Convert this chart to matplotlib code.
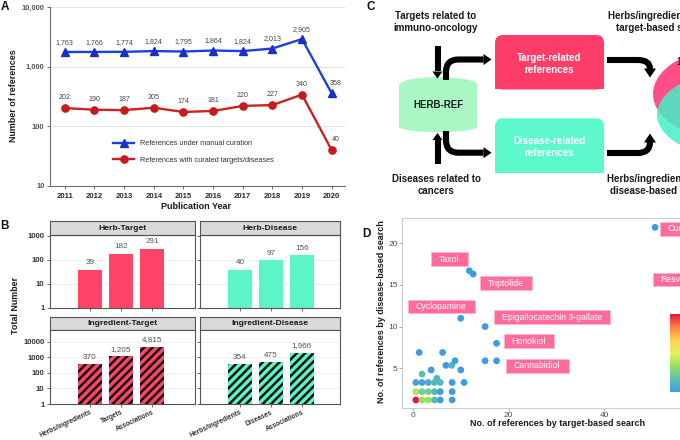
import numpy as np
import matplotlib
matplotlib.use('Agg')
import matplotlib.pyplot as plt
from matplotlib.patches import Rectangle, Ellipse, FancyBboxPatch, Polygon, PathPatch
from matplotlib.path import Path
from matplotlib.colors import LinearSegmentedColormap
from matplotlib.ticker import FixedLocator, FuncFormatter, NullLocator
from matplotlib.transforms import IdentityTransform

plt.rcParams['font.family'] = ['Liberation Sans', 'DejaVu Sans']
plt.rcParams['hatch.linewidth'] = 1.8

# ---------------- data ----------------
years = [2011, 2012, 2013, 2014, 2015, 2016, 2017, 2018, 2019, 2020]
manual_refs = [1763, 1766, 1774, 1824, 1795, 1864, 1824, 2013, 2905, 358]
curated_refs = [202, 190, 187, 205, 174, 181, 220, 227, 340, 40]
legend_labels = ['References under manual curation',
                 'References with curated targets/diseases']

facet_titles = ['Herb-Target', 'Herb-Disease', 'Ingredient-Target', 'Ingredient-Disease']
target_cats = ['Herbs/ingredients', 'Targets', 'Associations']
disease_cats = ['Herbs/ingredients', 'Diseases', 'Associations']
herb_target = [39, 182, 291]
herb_disease = [40, 97, 156]
ingr_target = [370, 1205, 4815]
ingr_disease = [354, 475, 1966]

target_hits = [0.6, 1.9, 3.2, 4.5, 5.7, 8.2,
               0.6, 1.9, 3.2, 4.5, 5.7, 8.2,
               0.6, 1.9, 3.2, 4.5, 5.7, 8.2, 10.7,
               5.0, 1.9, 3.8, 10.0, 6.9, 8.1, 8.8, 1.3, 6.2,
               15.1, 17.5, 17.5, 15.1, 10.0, 11.8, 12.6, 50.7, 58.0]
disease_hits = [1.2, 1.2, 1.2, 1.2, 1.2, 1.2,
                2.2, 2.2, 2.2, 2.2, 2.2, 2.2,
                3.3, 3.3, 3.3, 3.3, 3.3, 3.3, 3.3,
                3.8, 4.3, 4.8, 4.8, 5.35, 5.35, 5.9, 6.9, 6.9,
                5.9, 5.9, 8.0, 10.0, 11.0, 16.7, 16.3, 21.9, 15.7]
point_counts = [40, 14, 14, 6, 1, 1,
                16, 10, 10, 6, 1, 1,
                2, 2, 4, 6, 6, 1, 1,
                6, 7, 1, 1, 1, 5, 1, 1, 1,
                1, 1, 1, 1, 1, 1, 1, 1, 1]
compound_names = ['Curcumin', 'Resveratrol', 'Taxol', 'Triptolide', 'Cyclopamine',
                  'Epigallocatechin 3-gallate', 'Honokiol', 'Cannabidiol']

venn_top = '1'

# ---------------- layout helpers ----------------
W, H = 680, 440
fig = plt.figure(figsize=(6.8, 4.4), dpi=100)


def axpx(l, t, r, b, **kw):
    return fig.add_axes([l / W, 1 - b / H, (r - l) / W, (b - t) / H], **kw)


def ftext(x, y, s, **kw):
    return fig.text(x / W, 1 - y / H, s, **kw)


# overlay for panel C + panel letters
axC = axpx(0, 0, W, H)
axC.set_xlim(0, W)
axC.set_ylim(H, 0)
axC.axis('off')

# ---------------- Panel A ----------------
axA = axpx(50, 7, 345, 186)
axA.set_yscale('log')
blue = '#1f3fdd'
red = '#cc2222'
l1, = axA.plot(years, manual_refs, color=blue, lw=1.7, marker='^', ms=6.2,
               mfc='#1a30c4', mec='#1a30c4', label=legend_labels[0], zorder=3)
l2, = axA.plot(years, curated_refs, color=red, lw=1.7, marker='o', ms=5.2,
               mfc='#c41c1c', mec='#c41c1c', label=legend_labels[1], zorder=3)
axA.set_ylim(10, 10000)
axA.set_xlim(2010.5, 2020.45)
axA.yaxis.set_major_locator(FixedLocator([10, 100, 1000, 10000]))
axA.yaxis.set_minor_locator(NullLocator())
axA.yaxis.set_major_formatter(FuncFormatter(lambda v, p: f'{int(round(v)):,}'))
axA.set_xticks(years)
axA.yaxis.grid(True, color='#e3e3e3', lw=0.7)
axA.set_axisbelow(True)
for s in ['top', 'right']:
    axA.spines[s].set_visible(False)
for s in ['left', 'bottom']:
    axA.spines[s].set_color('#6e6e6e')
    axA.spines[s].set_linewidth(0.8)
axA.tick_params(axis='y', length=2.5, width=0.7, color='#6e6e6e', labelsize=5.4,
                labelcolor='#555555', pad=1.5)
axA.tick_params(axis='x', length=2.5, width=0.7, color='#6e6e6e', labelsize=5.6,
                labelcolor='#2a2a2a', pad=2.5)
for lab in axA.get_yticklabels() + axA.get_xticklabels():
    lab.set_fontweight('bold')
for i, (yr, v) in enumerate(zip(years, manual_refs)):
    dx = 3 if i == len(years) - 1 else 0
    axA.annotate(f'{v:,}', (yr, v), xytext=(dx, 7), textcoords='offset points',
                 ha='center', va='center', fontsize=5.1, color='#444444')
for i, (yr, v) in enumerate(zip(years, curated_refs)):
    dx = 3 if i == len(years) - 1 else 0
    axA.annotate(f'{v:,}', (yr, v), xytext=(dx, 7.5), textcoords='offset points',
                 ha='center', va='center', fontsize=5.1, color='#444444')
axA.legend(handles=[l1, l2], loc='center left', bbox_to_anchor=(113 / W, 1 - 152 / H),
           bbox_transform=fig.transFigure, frameon=False, fontsize=5.3,
           handlelength=2.9, handletextpad=0.7, labelspacing=1.25, borderpad=0,
           borderaxespad=0, labelcolor='#333333')
ftext(196, 206, 'Publication Year', ha='center', va='center', fontsize=6.5,
      fontweight='bold', color='#1a1a1a')
ftext(14, 96, 'Number of references', ha='center', va='center', rotation=90,
      fontsize=6.4, fontweight='bold', color='#1a1a1a')

# ---------------- Panel B ----------------
pink = '#ff4468'
aqua = '#5cf5c8'


def facet(l, r, ts, t, b, title, cats, vals, color, hatched, ytop, yticks,
          show_y, show_x, xlim):
    s = axpx(l, ts, r, t)
    s.set_facecolor('#d9d9d9')
    s.set_xticks([])
    s.set_yticks([])
    for sp in s.spines.values():
        sp.set_color('#555555')
        sp.set_linewidth(0.8)
    s.text(0.5, 0.5, title, ha='center', va='center', fontsize=6.1,
           fontweight='bold', color='#1a1a1a', transform=s.transAxes)
    ax = axpx(l, t, r, b)
    ax.set_yscale('log')
    x = np.arange(len(cats))
    ax.bar(x, vals, width=0.8, color=color, lw=0, zorder=2)
    if hatched:
        ax.bar(x, vals, width=0.8, facecolor='none', edgecolor='#111111',
               hatch='////', lw=0, zorder=3)
    ax.set_ylim(1, ytop)
    ax.set_xlim(*xlim)
    ax.yaxis.set_major_locator(FixedLocator(yticks))
    ax.yaxis.set_minor_locator(NullLocator())
    ax.yaxis.set_major_formatter(FuncFormatter(lambda v, p: f'{int(round(v))}'))
    ax.yaxis.grid(True, color='#ebebeb', lw=0.6)
    ax.set_axisbelow(True)
    for sp in ax.spines.values():
        sp.set_color('#555555')
        sp.set_linewidth(0.8)
    ax.tick_params(axis='y', length=2.5, width=0.6, color='#555555', labelsize=5.6,
                   labelcolor='#333333', pad=1.5, labelleft=show_y)
    ax.set_xticks(x)
    ax.tick_params(axis='x', length=2, width=0.6, color='#555555', labelsize=4.8,
                   labelcolor='#333333', pad=1.5, labelbottom=show_x)
    if show_x:
        ax.set_xticklabels(cats, rotation=25, ha='right', rotation_mode='anchor',
                           fontweight='bold')
    if show_y:
        for lab in ax.get_yticklabels():
            lab.set_fontweight('bold')
    for xi, v in zip(x, vals):
        ax.annotate(f'{v:,}', (xi, v), xytext=(0, 2.5), textcoords='offset points',
                    ha='center', va='bottom', fontsize=5.9, color='#555555')
    return ax


xl_left = (1 - 71 / 31, 1 + 74 / 31)
xl_right = (1 - 71 / 31, 1 + 69 / 31)
facet(50, 195, 221, 235, 308, facet_titles[0], target_cats, herb_target, pink, False,
      1100, [1, 10, 100, 1000], True, False, xl_left)
facet(200, 340, 221, 235, 308, facet_titles[1], disease_cats, herb_disease, aqua, False,
      1100, [1, 10, 100, 1000], False, False, xl_right)
facet(50, 195, 317, 330, 404, facet_titles[2], target_cats, ingr_target, pink, True,
      59000, [1, 10, 100, 1000, 10000], True, True, xl_left)
facet(200, 340, 317, 330, 404, facet_titles[3], disease_cats, ingr_disease, aqua, True,
      59000, [1, 10, 100, 1000, 10000], False, True, xl_right)
ftext(15, 305, 'Total Number', ha='center', va='center', rotation=90,
      fontsize=6.4, fontweight='bold', color='#1a1a1a')

# ---------------- Panel C (diagram) ----------------
tc = '#1a1a1a'
axC.text(436, 22, 'Targets related to\nimmuno-oncology', ha='center', va='center',
         fontsize=7, fontweight='bold', color=tc, linespacing=1.15)
axC.text(436, 185, 'Diseases related to\ncancers', ha='center', va='center',
         fontsize=7, fontweight='bold', color=tc, linespacing=1.15)
axC.text(662, 22, 'Herbs/ingredients from\ntarget-based search', ha='center',
         va='center', fontsize=7, fontweight='bold', color=tc, linespacing=1.15)
axC.text(661, 185, 'Herbs/ingredients from\ndisease-based search', ha='center',
         va='center', fontsize=7, fontweight='bold', color=tc, linespacing=1.15)

cyl = '#a8f7c4'
axC.add_patch(Rectangle((399.3, 85), 78, 41.7, color=cyl, lw=0))
axC.add_patch(Ellipse((438.3, 85), 78, 16, color=cyl, lw=0))
axC.add_patch(Ellipse((438.3, 126.7), 78, 11, color=cyl, lw=0))
axC.text(438.3, 105, 'HERB-REF', ha='center', va='center', fontsize=7,
         fontweight='bold', color='#1a1a1a')

tbox = '#ff3d68'
dbox = '#5df8cc'
for y0, colr, txt in [(35, tbox, 'Target-related\nreferences'),
                      (118.3, dbox, 'Disease-related\nreferences')]:
    axC.add_patch(FancyBboxPatch((495, y0), 109, 54.5,
                                 boxstyle='round,pad=0,rounding_size=8', fc=colr, lw=0))
    axC.add_patch(Rectangle((495, y0 + 27), 109, 27.5, fc=colr, lw=0))
    axC.text(549.5, y0 + 28.8, txt, ha='center', va='center', fontsize=7,
             fontweight='bold', color='white', linespacing=1.2)

# venn
axC.add_patch(Ellipse((730, 94), 154, 92, fc='#ff4f86', lw=0))
axC.add_patch(Ellipse((730, 114.5), 146, 83, fc='#42f0c7', lw=0, alpha=0.85))
axC.text(676, 62, venn_top, ha='left', va='center', fontsize=7, fontweight='bold',
         color='#1a1a1a')

LW = 4.4


def shaft(pts, codes):
    axC.add_patch(PathPatch(Path(pts, codes), fc='none', ec='black', lw=LW,
                            capstyle='butt', joinstyle='round'))


def head(tip, d, w=11, L=8):
    x, y = tip
    if d == 'right':
        pts = [(x - L, y - w / 2), (x - L, y + w / 2), (x, y)]
    elif d == 'down':
        pts = [(x - w / 2, y - L), (x + w / 2, y - L), (x, y)]
    else:
        pts = [(x - w / 2, y + L), (x + w / 2, y + L), (x, y)]
    axC.add_patch(Polygon(pts, closed=True, fc='black', ec='none'))


M, Lt, C3 = Path.MOVETO, Path.LINETO, Path.CURVE3
shaft([(437.5, 46.5), (437.5, 71.5)], [M, Lt])
head((437.5, 78.5), 'down', w=10, L=7)
shaft([(437.5, 164), (437.5, 140)], [M, Lt])
head((437.5, 133), 'up', w=10, L=7)
shaft([(446, 80), (446, 72), (446, 59.5), (458.5, 59.5), (483.5, 59.5)], [M, Lt, C3, C3, Lt])
head((491.5, 59.5), 'right')
shaft([(446, 131), (446, 140), (446, 152.7), (458.5, 152.7), (483.5, 152.7)], [M, Lt, C3, C3, Lt])
head((491.5, 152.7), 'right')
shaft([(607, 60), (638, 60), (650, 60), (650, 69)], [M, Lt, C3, C3])
head((650, 77.5), 'down', w=12, L=9)
shaft([(607, 153), (638, 153), (650, 153), (650, 142)], [M, Lt, C3, C3])
head((650, 133.5), 'up', w=12, L=9)

# panel letters
for (x, y, s) in [(4.5, 6.5, 'A'), (4.5, 226, 'B'), (371, 7, 'C'), (366, 234, 'D')]:
    axC.text(x, y, s, ha='center', va='center', fontsize=8.5, fontweight='bold',
             color='#111111')

# ---------------- Panel D ----------------
px_per_x = 4.775
x0_px = 413
px_per_y = 8.34
y0_px = 410
xmin = (402 - x0_px) / px_per_x
xmax = 60
ymin = (y0_px - 408) / px_per_y
ymax = (y0_px - 218) / px_per_y
axD = axpx(402, 218, x0_px + xmax * px_per_x, 408)
axD.set_xlim(xmin, xmax)
axD.set_ylim(ymin, ymax)
cmap = LinearSegmentedColormap.from_list(
    'hx', ['#3e9de0', '#5cc2b0', '#99e060', '#e8f060', '#ffd24d', '#ff8040', '#e3183c'])
sc = axD.scatter(target_hits, disease_hits, c=point_counts, cmap=cmap, vmin=1, vmax=40,
                 s=24, edgecolors='none', zorder=3)
for sp in axD.spines.values():
    sp.set_color('#cfcfcf')
    sp.set_linewidth(0.8)
axD.set_xticks([0, 20, 40])
axD.set_yticks([5, 10, 15, 20])
axD.tick_params(length=2, width=0.6, color='#9a9a9a', labelsize=6, labelcolor='#4d4d4d',
                pad=1.2)
ftext(558, 423, 'No. of references by target-based search', ha='center', va='center',
      fontsize=6.5, fontweight='bold', color='#1a1a1a')
ftext(381, 312, 'No. of references by disease-based search', ha='center', va='center',
      rotation=90, fontsize=6.5, fontweight='bold', color='#1a1a1a')

label_pos = {
    'Curcumin': (668, 228.8), 'Resveratrol': (660.7, 279.3), 'Taxol': (439.3, 259),
    'Triptolide': (488.3, 283), 'Cyclopamine': (416, 306.5),
    'Epigallocatechin 3-gallate': (501.7, 317), 'Honokiol': (511.7, 341),
    'Cannabidiol': (514, 366),
}
label_texts = []
for name in compound_names:
    px, py = label_pos[name]
    t = axD.text((px - x0_px) / px_per_x, (y0_px - py) / px_per_y, name, ha='left',
                 va='center', fontsize=6.3, color='white', zorder=6, clip_on=False)
    label_texts.append(t)

cax = axpx(670, 314, 684, 392)
cb = fig.colorbar(sc, cax=cax)
cb.outline.set_visible(False)
cb.set_ticks([])

renderer = fig.canvas.get_renderer()
for t in label_texts:
    bb = t.get_window_extent(renderer=renderer)
    r = Rectangle((bb.x0 - 8, bb.y0 - 2.3), bb.width + 16, bb.height + 4.6,
                  transform=IdentityTransform(), fc='#ff6b9b', ec='#ffb6cc', lw=0.6,
                  zorder=5, clip_on=False)
    axD.add_artist(r)

fig.savefig('out.png', dpi=100)
